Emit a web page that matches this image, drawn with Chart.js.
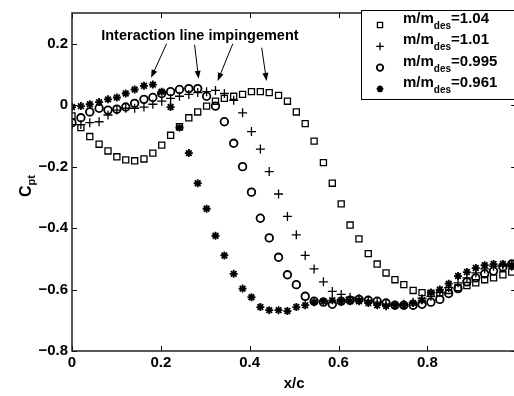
<!DOCTYPE html>
<html>
<head>
<meta charset="utf-8">
<script src="https://cdn.jsdelivr.net/npm/chart.js@4.4.0/dist/chart.umd.min.js"></script>
<style>
  html, body { margin: 0; padding: 0; background: #fff; overflow: hidden; }
  #wrap { position: relative; width: 522px; height: 396px; }
</style>
</head>
<body>
<div id="wrap"><canvas id="chart" width="522" height="396"></canvas></div>
<script>
// x/c stations (shared by all four runs)
const xc = [0, 0.020, 0.040, 0.061, 0.081, 0.101, 0.121, 0.141, 0.162, 0.182,
  0.202, 0.222, 0.242, 0.263, 0.283, 0.303, 0.323, 0.343, 0.364, 0.384,
  0.404, 0.424, 0.444, 0.465, 0.485, 0.505, 0.525, 0.545, 0.566, 0.586,
  0.606, 0.626, 0.646, 0.667, 0.687, 0.707, 0.727, 0.747, 0.768, 0.788,
  0.808, 0.828, 0.848, 0.869, 0.889, 0.909, 0.929, 0.949, 0.970, 0.990];

// Cpt for each mass flow ratio
const cp104 = [-0.035, -0.073, -0.102, -0.127, -0.149, -0.168, -0.178, -0.181, -0.175, -0.156,
  -0.130, -0.098, -0.070, -0.041, -0.022, -0.003, 0.013, 0.022, 0.029, 0.035,
  0.044, 0.044, 0.041, 0.032, 0.013, -0.022, -0.060, -0.117, -0.187, -0.254,
  -0.321, -0.390, -0.435, -0.483, -0.517, -0.546, -0.568, -0.584, -0.603, -0.610,
  -0.613, -0.610, -0.603, -0.594, -0.587, -0.578, -0.568, -0.562, -0.552, -0.543];
const cp101 = [-0.063, -0.063, -0.057, -0.054, -0.032, -0.016, -0.010, -0.010, -0.006, 0.003,
  0.013, 0.022, 0.029, 0.035, 0.041, 0.044, 0.048, 0.038, 0.016, -0.025,
  -0.086, -0.143, -0.216, -0.289, -0.362, -0.422, -0.489, -0.533, -0.575, -0.606,
  -0.616, -0.625, -0.629, -0.635, -0.641, -0.648, -0.651, -0.648, -0.641, -0.629,
  -0.622, -0.610, -0.594, -0.578, -0.562, -0.546, -0.533, -0.524, -0.521, -0.524];
const cp0995 = [-0.057, -0.041, -0.022, -0.010, -0.016, -0.013, -0.006, 0.006, 0.019, 0.025,
  0.038, 0.044, 0.051, 0.054, 0.054, 0.029, -0.003, -0.054, -0.124, -0.200,
  -0.283, -0.368, -0.432, -0.495, -0.552, -0.584, -0.622, -0.638, -0.641, -0.648,
  -0.638, -0.635, -0.632, -0.635, -0.638, -0.644, -0.651, -0.651, -0.651, -0.648,
  -0.641, -0.632, -0.613, -0.597, -0.575, -0.562, -0.549, -0.540, -0.527, -0.517];
const cp0961 = [-0.006, -0.003, 0.003, 0.010, 0.019, 0.025, 0.038, 0.051, 0.063, 0.067,
  0.044, -0.006, -0.073, -0.156, -0.254, -0.337, -0.425, -0.489, -0.549, -0.597,
  -0.625, -0.657, -0.667, -0.667, -0.670, -0.657, -0.651, -0.641, -0.638, -0.635,
  -0.638, -0.638, -0.638, -0.644, -0.651, -0.654, -0.651, -0.651, -0.644, -0.635,
  -0.610, -0.600, -0.581, -0.556, -0.543, -0.530, -0.521, -0.517, -0.517, -0.521];

const ratios = ['1.04', '1.01', '0.995', '0.961'];

// annotation: label anchor and arrows (data coords: [x0, y0, x1, y1])
const noteText = 'Interaction line impingement';
const notePos = [0.288, 0.213];
const arrows = [
  [0.213, 0.200, 0.178, 0.089],
  [0.276, 0.197, 0.285, 0.086],
  [0.362, 0.200, 0.328, 0.079],
  [0.427, 0.187, 0.438, 0.079]
];

const FONT = '"Liberation Sans", Arial, sans-serif';

function pts(arr) {
  return xc.map((x, i) => ({ x: x, y: arr[i] }));
}

function fmt(v) {
  const r = Math.round(v * 10) / 10;
  if (r === 0) return '0';
  if (r === 1) return '';   // sits past the cropped right edge
  return (r < 0 ? '\u2212' : '') + String(Math.abs(r));
}

const styles = [
  { pointStyle: 'rect', pointRadius: 4.3, borderWidth: 1.3, order: 4 },
  { pointStyle: 'cross', pointRadius: 4.5, borderWidth: 1.3, order: 3 },
  { pointStyle: 'circle', pointRadius: 3.8, borderWidth: 1.8, order: 2 },
  { pointStyle: 'star', pointRadius: 4, borderWidth: 1.8, order: 1 }
];
const series = [cp104, cp101, cp0995, cp0961];

const datasets = series.map((s, k) => ({
  label: 'm/m des=' + ratios[k],
  data: pts(s),
  showLine: false,
  pointStyle: styles[k].pointStyle,
  pointRadius: styles[k].pointRadius,
  pointHoverRadius: styles[k].pointRadius,
  borderWidth: styles[k].borderWidth,
  borderColor: '#000',
  backgroundColor: 'rgba(0,0,0,0)',
  order: styles[k].order
}));

function arrow(ctx, x0, y0, x1, y1) {
  const a = Math.atan2(y1 - y0, x1 - x0);
  const len = 8, w = 3;
  ctx.beginPath();
  ctx.moveTo(x0, y0);
  ctx.lineTo(x1 - Math.cos(a) * len * 0.8, y1 - Math.sin(a) * len * 0.8);
  ctx.stroke();
  ctx.beginPath();
  ctx.moveTo(x1, y1);
  ctx.lineTo(x1 - Math.cos(a) * len + Math.sin(a) * w, y1 - Math.sin(a) * len - Math.cos(a) * w);
  ctx.lineTo(x1 - Math.cos(a) * len - Math.sin(a) * w, y1 - Math.sin(a) * len + Math.cos(a) * w);
  ctx.closePath();
  ctx.fill();
}

const decor = {
  id: 'decor',
  afterDraw(chart) {
    const ctx = chart.ctx;
    const ca = chart.chartArea;
    const xs = chart.scales.x, ys = chart.scales.y;
    ctx.save();
    ctx.strokeStyle = '#000';
    ctx.fillStyle = '#000';

    // inward tick marks on all four sides
    ctx.lineWidth = 1;
    ys.ticks.forEach(t => {
      const y = Math.round(ys.getPixelForValue(t.value)) + 0.5;
      ctx.beginPath();
      ctx.moveTo(ca.left, y); ctx.lineTo(ca.left + 5, y);
      ctx.moveTo(ca.right, y); ctx.lineTo(ca.right - 5, y);
      ctx.stroke();
    });
    xs.ticks.forEach(t => {
      const x = Math.round(xs.getPixelForValue(t.value)) + 0.5;
      ctx.beginPath();
      ctx.moveTo(x, ca.bottom); ctx.lineTo(x, ca.bottom - 5);
      ctx.moveTo(x, ca.top); ctx.lineTo(x, ca.top + 5);
      ctx.stroke();
    });

    // axes box
    ctx.lineWidth = 1.5;
    ctx.strokeStyle = '#222';
    ctx.strokeRect(ca.left, ca.top, ca.right - ca.left, ca.bottom - ca.top);

    // legend (right side runs off the cropped picture)
    ctx.strokeStyle = '#000';
    ctx.lineWidth = 1;
    ctx.fillStyle = '#fff';
    ctx.fillRect(361, 10, 170, 89);
    ctx.strokeRect(361.5, 10.5, 170, 89);
    ratios.forEach((r, k) => {
      const base = 23 + k * 21.3;
      ctx.lineWidth = styles[k].borderWidth;
      ctx.strokeStyle = '#000';
      ctx.fillStyle = 'rgba(0,0,0,0)';
      if (Chart.helpers && Chart.helpers.drawPoint) {
        Chart.helpers.drawPoint(ctx, {
          pointStyle: styles[k].pointStyle,
          radius: styles[k].pointRadius * 0.85,
          rotation: 0,
          borderWidth: styles[k].borderWidth
        }, 380, base + 2);
      }
      ctx.fillStyle = '#000';
      ctx.textBaseline = 'alphabetic';
      ctx.textAlign = 'left';
      ctx.font = 'bold 15px ' + FONT;
      let x = 403;
      ctx.fillText('m/m', x, base);
      x += ctx.measureText('m/m').width;
      ctx.font = 'bold 10px ' + FONT;
      ctx.fillText('des', x, base + 6);
      x += ctx.measureText('des').width;
      ctx.font = 'bold 15px ' + FONT;
      ctx.fillText('=' + r, x, base);
    });

    // annotation
    ctx.fillStyle = '#000';
    ctx.strokeStyle = '#000';
    ctx.lineWidth = 1;
    ctx.font = 'bold 14.5px ' + FONT;
    ctx.textAlign = 'center';
    ctx.fillText(noteText, xs.getPixelForValue(notePos[0]), ys.getPixelForValue(notePos[1]));
    arrows.forEach(a => {
      arrow(ctx, xs.getPixelForValue(a[0]), ys.getPixelForValue(a[1]),
        xs.getPixelForValue(a[2]), ys.getPixelForValue(a[3]));
    });

    // axis titles
    ctx.font = 'bold 15px ' + FONT;
    ctx.textAlign = 'center';
    ctx.fillText('x/c', (ca.left + ca.right) / 2, 388);

    ctx.translate(31, (ca.top + ca.bottom) / 2 + 4);
    ctx.rotate(-Math.PI / 2);
    ctx.textAlign = 'left';
    ctx.font = 'bold 16px ' + FONT;
    const cw = ctx.measureText('C').width;
    ctx.font = 'bold 11px ' + FONT;
    const pw = ctx.measureText('pt').width;
    let sx = -(cw + pw) / 2;
    ctx.font = 'bold 16px ' + FONT;
    ctx.fillText('C', sx, 0);
    ctx.font = 'bold 11px ' + FONT;
    ctx.fillText('pt', sx + cw, 4);
    ctx.restore();
  }
};

new Chart(document.getElementById('chart').getContext('2d'), {
  type: 'scatter',
  data: { datasets: datasets },
  options: {
    responsive: false,
    animation: false,
    layout: { padding: { top: 5, right: 5, left: 0, bottom: 0 } },
    plugins: {
      legend: { display: false },
      tooltip: { enabled: false }
    },
    scales: {
      x: {
        type: 'linear',
        min: 0,
        max: 1,
        grid: { display: false, drawTicks: false },
        border: { display: false },
        ticks: {
          stepSize: 0.2,
          padding: 3,
          color: '#000',
          font: { family: FONT, size: 15, weight: 'bold' },
          maxRotation: 0,
          callback: fmt
        },
        afterFit: s => { s.height = 45; }
      },
      y: {
        type: 'linear',
        min: -0.8,
        max: 0.3,
        grid: { display: false, drawTicks: false },
        border: { display: false },
        ticks: {
          stepSize: 0.2,
          includeBounds: false,
          padding: 4,
          color: '#000',
          font: { family: FONT, size: 15, weight: 'bold' },
          callback: fmt
        },
        afterFit: s => { s.width = 72; }
      }
    }
  },
  plugins: [decor]
});
</script>
</body>
</html>
